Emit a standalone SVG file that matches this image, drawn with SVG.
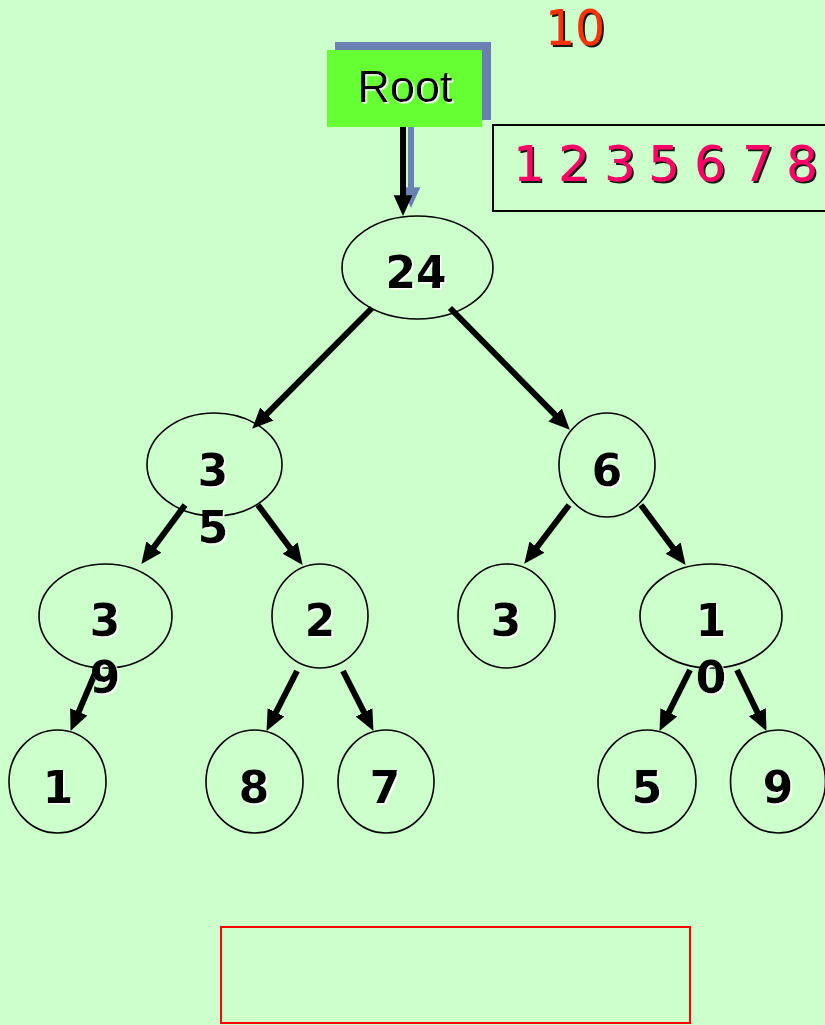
<svg xmlns="http://www.w3.org/2000/svg" width="825" height="1025" viewBox="0 0 825 1025">
  <defs>
    <style>
      .node { fill: none; stroke: #000; stroke-width: 1.6; }
      .lbl { font-family: "DejaVu Sans", Verdana, sans-serif; font-weight: bold; font-size: 44px; fill: #000; text-anchor: middle; filter: url(#wsh); }
      .edge { stroke: #000; stroke-width: 6; fill: none; marker-end: url(#ah); }
      .edge-sh { stroke: #6B80B2; stroke-width: 6; fill: none; marker-end: url(#ahs); }
    </style>
    <filter id="wsh" x="-20%" y="-20%" width="150%" height="150%">
      <feDropShadow dx="1.5" dy="1.5" stdDeviation="0.4" flood-color="#FFFFFF" flood-opacity="1"/>
    </filter>
    <filter id="bsh" x="-20%" y="-20%" width="150%" height="150%">
      <feDropShadow dx="2" dy="2" stdDeviation="0.6" flood-color="#000000" flood-opacity="0.9"/>
    </filter>
    <marker id="ah" markerUnits="userSpaceOnUse" markerWidth="22" markerHeight="22" viewBox="0 0 20 20" refX="8" refY="10" orient="auto">
      <path d="M0,1.5 L19,10 L0,18.5 z" fill="#000"/>
    </marker>
    <marker id="ahs" markerUnits="userSpaceOnUse" markerWidth="22" markerHeight="22" viewBox="0 0 20 20" refX="8" refY="10" orient="auto">
      <path d="M0,1.5 L19,10 L0,18.5 z" fill="#6B80B2"/>
    </marker>
  </defs>

  <rect x="0" y="0" width="825" height="1025" fill="#CCFFCC"/>

  <!-- title number -->
  <g id="counter">
    <text x="545" y="45" font-family="'DejaVu Sans', Verdana, sans-serif" font-size="50" fill="#FF3300" textLength="60" lengthAdjust="spacingAndGlyphs" filter="url(#bsh)">10</text>
  </g>

  <!-- sorted list box -->
  <g id="list">
    <rect x="493" y="125" width="345" height="86" fill="none" stroke="#000" stroke-width="2"/>
    <text y="181" x="513 545 558 590 604 636 648 680 694 726 742 774 786" font-family="'DejaVu Sans', Verdana, sans-serif" font-size="50" fill="#FF0066" filter="url(#bsh)">1 2 3 5 6 7 8</text>
  </g>

  <!-- connectors -->
  <g id="connectors">
    <line class="edge-sh" x1="411" y1="118" x2="411" y2="196"/>
    <line class="edge" x1="403" y1="127" x2="403" y2="204"/>
    <line class="edge" x1="372" y1="308" x2="260.7" y2="420.2"/>
    <line class="edge" x1="450" y1="308" x2="561.3" y2="421.2"/>
    <line class="edge" x1="185" y1="505" x2="148.6" y2="554.2"/>
    <line class="edge" x1="258" y1="505" x2="295.4" y2="555.2"/>
    <line class="edge" x1="569" y1="505" x2="531.6" y2="554.2"/>
    <line class="edge" x1="641" y1="505" x2="678.4" y2="555.2"/>
    <line class="edge" x1="99" y1="664" x2="75.3" y2="719.9"/>
    <line class="edge" x1="297" y1="671" x2="272.0" y2="720.2"/>
    <line class="edge" x1="343" y1="671" x2="368.0" y2="720.2"/>
    <line class="edge" x1="690" y1="670" x2="664.9" y2="720.2"/>
    <line class="edge" x1="737" y1="670" x2="761.2" y2="720.1"/>
  </g>

  <!-- Root pointer box -->
  <g id="root-label">
    <rect x="335" y="42" width="156" height="78" fill="#6B80B2"/>
    <rect x="327" y="50" width="155" height="77" fill="#66FF33"/>
    <text x="405" y="102" font-family="'Liberation Sans', Arial, sans-serif" font-size="45" fill="#000" text-anchor="middle" filter="url(#wsh)">Root</text>
  </g>

  <g id="n24">
    <ellipse class="node" cx="417.5" cy="267.5" rx="75.5" ry="51.5"/>
    <text class="lbl" x="416" y="288">24</text>
  </g>
  <g id="n35">
    <ellipse class="node" cx="214.5" cy="464.5" rx="67.5" ry="51.5"/>
    <text class="lbl"><tspan x="213" y="486">3</tspan><tspan x="213" y="543">5</tspan></text>
  </g>
  <g id="n6">
    <ellipse class="node" cx="607" cy="465" rx="48" ry="52"/>
    <text class="lbl" x="607" y="486">6</text>
  </g>
  <g id="n39">
    <ellipse class="node" cx="105.5" cy="616" rx="66.5" ry="52"/>
    <text class="lbl"><tspan x="105" y="636">3</tspan><tspan x="105" y="693">9</tspan></text>
  </g>
  <g id="n2">
    <ellipse class="node" cx="320" cy="616" rx="48" ry="52"/>
    <text class="lbl" x="320" y="636">2</text>
  </g>
  <g id="n3">
    <ellipse class="node" cx="506.5" cy="616" rx="48.5" ry="52"/>
    <text class="lbl" x="506" y="636">3</text>
  </g>
  <g id="n10">
    <ellipse class="node" cx="711" cy="616" rx="71" ry="52"/>
    <text class="lbl"><tspan x="711" y="636">1</tspan><tspan x="711" y="693">0</tspan></text>
  </g>
  <g id="n1">
    <ellipse class="node" cx="57.5" cy="781.5" rx="48.5" ry="51.5"/>
    <text class="lbl" x="58" y="803">1</text>
  </g>
  <g id="n8">
    <ellipse class="node" cx="254.5" cy="781.5" rx="48.5" ry="51.5"/>
    <text class="lbl" x="254" y="803">8</text>
  </g>
  <g id="n7">
    <ellipse class="node" cx="386" cy="781.5" rx="48" ry="51.5"/>
    <text class="lbl" x="385" y="803">7</text>
  </g>
  <g id="n5">
    <ellipse class="node" cx="647" cy="781.5" rx="49" ry="51.5"/>
    <text class="lbl" x="647" y="803">5</text>
  </g>
  <g id="n9">
    <ellipse class="node" cx="778" cy="781.5" rx="47.5" ry="51.5"/>
    <text class="lbl" x="778" y="803">9</text>
  </g>

  <g id="answer-box">
    <rect x="221" y="927" width="469" height="96" fill="none" stroke="#FF0000" stroke-width="2"/>
  </g>
</svg>
